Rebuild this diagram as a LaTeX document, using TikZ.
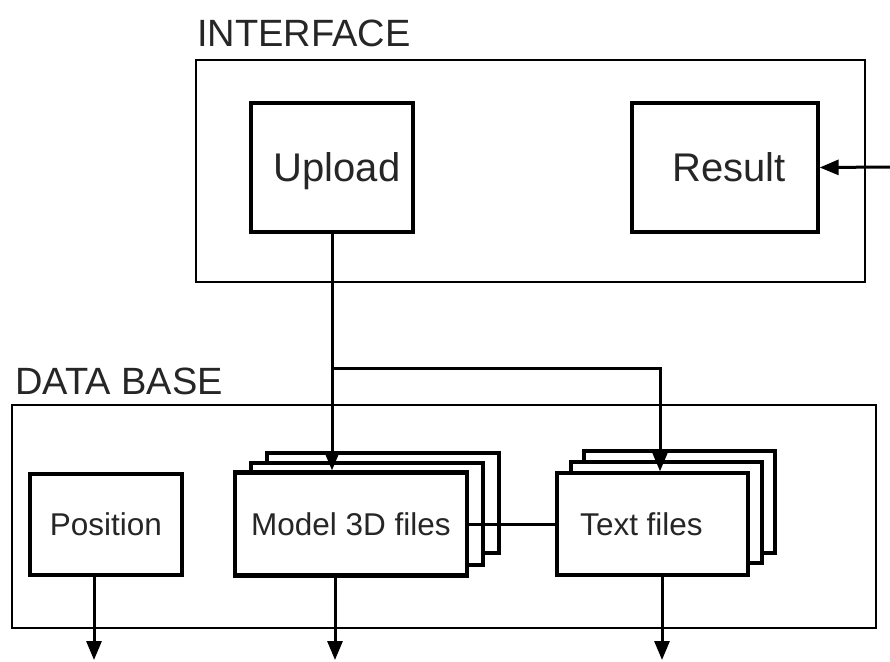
\documentclass[tikz,border=0pt]{standalone}
\usepackage{fontspec}
\setmainfont{Liberation Sans}
\usetikzlibrary{arrows.meta}
\begin{document}
\begin{tikzpicture}[x=1pt,y=-1pt,
  frame/.style={draw, line width=1.7pt, inner sep=0pt},
  box/.style={draw, line width=3.3pt, fill=white, inner sep=0pt, text=black!85, text depth=0pt},
  frontbox/.style={box, line width=4.2pt},
  conn/.style={line width=3pt},
  arr/.style={conn, -{Triangle[length=19pt,width=15pt]}},
  lbl/.style={font=\fontsize{38}{40}\selectfont, anchor=base west, inner sep=0pt, text=black!85},
  bigtxt/.style={font=\fontsize{40}{42}\selectfont},
  smalltxt/.style={font=\fontsize{31.5}{34}\selectfont}
]
\path[use as bounding box, fill=white] (0,0) rectangle (890,661);

% INTERFACE
\node[frame, minimum width=669pt, minimum height=222pt] (iface) at (530.5,171) {};
\node[lbl] (ilbl) at (197,47) {INTERFACE};
\node[box, bigtxt, minimum width=162pt, minimum height=129pt] (upload) at (332,167.5) {\hspace*{10pt}Upload};
\node[box, bigtxt, minimum width=186pt, minimum height=129pt] (result) at (725,167.5) {\hspace*{8pt}Result};
\coordinate (rin) at (892,167);
\draw[arr] (rin) -- (result.east);

% DATA BASE
\node[frame, minimum width=864pt, minimum height=223pt] (dbase) at (444,516.5) {};
\node[lbl] (dlbl) at (15,394) {DATA BASE};
\node[box, smalltxt, minimum width=152pt, minimum height=101pt] (pos) at (106,524.5) {Position};

\node[box, minimum width=232pt, minimum height=100pt] (modelc) at (383,503) {};
\node[box, minimum width=232pt, minimum height=102pt] (modelb) at (367,514) {};
\node[frontbox, smalltxt, minimum width=232pt, minimum height=103pt] (model) at (351,524) {Model 3D files};

\node[box, minimum width=191pt, minimum height=102pt] (textc) at (679.5,502) {};
\node[box, minimum width=191pt, minimum height=101pt] (textb) at (666.5,512.5) {};
\node[box, smalltxt, minimum width=191pt, minimum height=102pt] (text) at (652.5,524) {Text files\hspace*{22pt}};

% connectors
\draw[arr] (upload.south) -- (upload.south |- model.north);
\coordinate (br) at (332,368);
\coordinate (tt) at (660,368);
\draw[arr] (br) -- (tt) -- (tt |- text.north);
\draw[conn] (model.east) -- (text.west);

\coordinate (p1) at (94,660);
\coordinate (p2) at (335,660);
\coordinate (p3) at (662,660);
\draw[arr] (p1 |- pos.south) -- (p1);
\draw[arr] (p2 |- model.south) -- (p2);
\draw[arr] (p3 |- text.south) -- (p3);
\end{tikzpicture}
\end{document}
